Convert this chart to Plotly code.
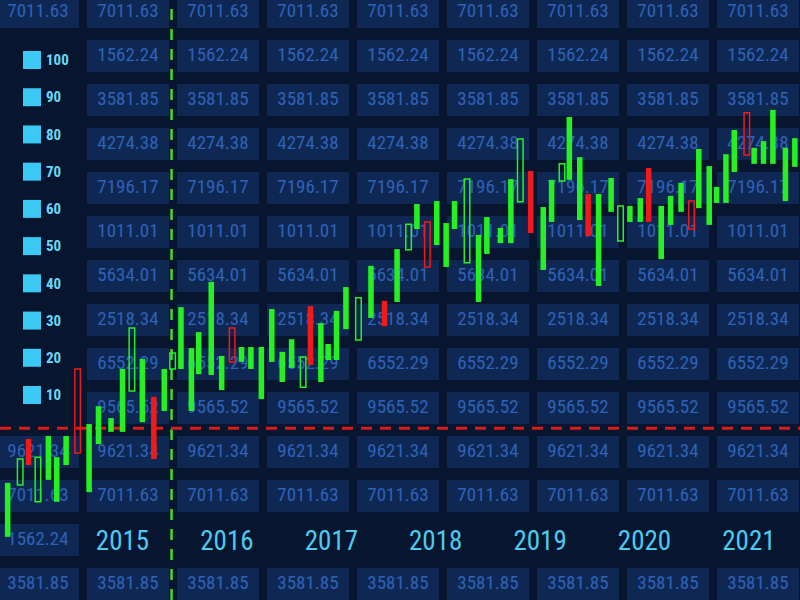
import plotly.graph_objects as go

# ---------------- data ----------------
# candle dates (fractional years)
dates = [2013.90, 2014.02, 2014.10, 2014.19, 2014.29, 2014.37, 2014.46, 2014.57, 2014.68, 2014.77,
         2014.89, 2015.00, 2015.09, 2015.19, 2015.30, 2015.40, 2015.48, 2015.56, 2015.66, 2015.73,
         2015.85, 2015.95, 2016.05, 2016.14, 2016.23, 2016.33, 2016.43, 2016.53, 2016.62, 2016.73,
         2016.80, 2016.90, 2016.97, 2017.05, 2017.14, 2017.26, 2017.38, 2017.51, 2017.63, 2017.74,
         2017.82, 2017.92, 2018.01, 2018.10, 2018.18, 2018.30, 2018.41, 2018.49, 2018.62, 2018.72,
         2018.81, 2018.91, 2019.03, 2019.11, 2019.21, 2019.28, 2019.38, 2019.46, 2019.56, 2019.68,
         2019.77, 2019.86, 2019.96, 2020.04, 2020.16, 2020.25, 2020.35, 2020.45, 2020.52, 2020.62,
         2020.69, 2020.78, 2020.86, 2020.98, 2021.05, 2021.14, 2021.23, 2021.35, 2021.44]
# top and bottom of each candle body
body_high = [-13.6, -7.2, -1.8, -6.7, -1.0, -6.7, -1.0, 17.0, 2.2, 7.0,
             3.8, 17.0, 28.0, 19.7, 9.5, 17.0, 21.3, 33.6, 22.6, 26.9,
             40.4, 20.5, 28.0, 22.9, 22.9, 22.9, 33.1, 21.6, 25.0, 20.2,
             33.9, 29.3, 23.7, 32.6, 39.0, 36.1, 44.7, 35.3, 49.2, 55.9,
             61.3, 56.5, 62.1, 56.2, 62.1, 68.0, 53.0, 57.8, 54.9, 68.0,
             78.8, 70.2, 60.5, 67.8, 72.1, 84.7, 73.9, 64.0, 64.0, 68.3,
             60.8, 60.8, 62.9, 71.0, 60.8, 63.5, 67.0, 62.1, 76.1, 71.5,
             65.9, 74.7, 81.2, 85.8, 76.4, 78.2, 86.6, 76.4, 79.0]
body_low = [-28.1, -14.2, -8.8, -18.7, -12.8, -18.7, -8.8, -5.6, -16.1, -3.2,
            0.1, 0.1, 11.1, 2.7, -7.2, 5.7, 17.0, 17.0, 5.7, 15.6,
            15.4, 11.3, 18.9, 18.9, 17.0, 8.9, 18.9, 13.5, 17.3, 12.1,
            18.1, 13.5, 19.4, 19.4, 27.7, 24.8, 30.7, 28.5, 35.0, 49.0,
            54.6, 44.4, 50.3, 44.4, 54.6, 45.5, 35.0, 47.9, 50.8, 50.8,
            61.9, 53.5, 43.6, 56.5, 67.5, 67.8, 57.0, 52.7, 39.3, 59.2,
            51.4, 56.5, 56.5, 56.5, 46.5, 55.7, 59.2, 54.6, 60.2, 55.7,
            61.6, 61.6, 69.9, 74.5, 72.1, 72.1, 72.1, 62.1, 71.3]
# G = green filled, GH = green hollow, R = red filled, RH = red hollow
kinds = ["G", "GH", "R", "GH", "G", "G", "G", "RH", "G", "G",
         "G", "G", "GH", "G", "R", "G", "GH", "G", "G", "G",
         "G", "G", "RH", "G", "G", "G", "G", "G", "G", "GH",
         "R", "G", "G", "G", "G", "GH", "G", "R", "G", "GH",
         "G", "RH", "G", "G", "G", "GH", "G", "G", "G", "G",
         "GH", "R", "G", "G", "GH", "G", "G", "R", "G", "G",
         "GH", "G", "G", "R", "G", "G", "G", "RH", "G", "G",
         "G", "G", "G", "RH", "G", "G", "G", "G", "G"]

year_ticks = [2015, 2016, 2017, 2018, 2019, 2020, 2021]
year_labels = ["2015", "2016", "2017", "2018", "2019", "2020", "2021"]
level_ticks = [10, 20, 30, 40, 50, 60, 70, 80, 90, 100]
level_labels = ["10", "20", "30", "40", "50", "60", "70", "80", "90", "100"]

ref_level = 1.1      # red dashed line
ref_date = 2015.47   # green dashed line

# background board numbers, one per row
board_rows = ["7011.63", "1562.24", "3581.85", "4274.38", "7196.17", "1011.01", "5634.01",
              "2518.34", "6552.29", "9565.52", "9621.34", "7011.63", "1562.24", "3581.85"]

# ---------------- styling ----------------
BG = "#07152f"
BOX = "#0f2853"
BOXTXT = "#2d62b8"
GREEN = "#27f022"
RED = "#f01a1a"
CYAN = "#4ccaf0"
NARROW = "Liberation Sans Narrow, Roboto Condensed, Roboto, Arial"

fig = go.Figure()

# background board (pixel-like canvas on base axes)
col_centers = [38 + 90 * i for i in range(9)]
row_centers = [12 + 44 * j for j in range(14)]
shapes = []
tx, ty, tt = [], [], []
for ci, cx in enumerate(col_centers):
    for ri, cy in enumerate(row_centers):
        if ci == 0 and ri not in (0, 10, 11, 12, 13):
            continue
        if ci > 0 and ri == 12:
            continue
        shapes.append(dict(type="rect", xref="x", yref="y", x0=cx - 41, x1=cx + 41,
                           y0=cy - 16, y1=cy + 16, fillcolor=BOX,
                           line=dict(width=0), layer="below"))
        tx.append(cx)
        ty.append(cy)
        tt.append(board_rows[ri])

fig.add_trace(go.Scatter(x=tx, y=ty, text=tt, mode="text", xaxis="x", yaxis="y",
                         textfont=dict(family=NARROW, size=19, color=BOXTXT),
                         hoverinfo="skip", showlegend=False))

# candles
styles = {
    "G": dict(fill=GREEN, line=GREEN, lw=0),
    "GH": dict(fill="rgba(0,0,0,0)", line=GREEN, lw=1.5),
    "R": dict(fill=RED, line=RED, lw=0),
    "RH": dict(fill="rgba(0,0,0,0)", line=RED, lw=1.5),
}
for k, st in styles.items():
    xs = [d for d, kk in zip(dates, kinds) if kk == k]
    lo = [l for l, kk in zip(body_low, kinds) if kk == k]
    hi = [h for h, kk in zip(body_high, kinds) if kk == k]
    fig.add_trace(go.Bar(x=xs, y=[h - l for h, l in zip(hi, lo)], base=lo, width=0.053,
                         marker=dict(color=st["fill"], line=dict(color=st["line"], width=st["lw"])),
                         xaxis="x2", yaxis="y2", showlegend=False, hoverinfo="skip"))

# level markers beside the axis labels
fig.add_trace(go.Scatter(x=[2014.133] * len(level_ticks), y=level_ticks, mode="markers",
                         marker=dict(symbol="square", size=18, color="#3cc8f4"),
                         xaxis="x2", yaxis="y2", showlegend=False, hoverinfo="skip"))

shapes.append(dict(type="line", xref="x2", yref="paper", x0=ref_date, x1=ref_date, y0=0, y1=1,
                   line=dict(color="#45d82a", width=2.5, dash="11px,9px"), layer="below"))
shapes.append(dict(type="line", xref="paper", yref="y2", x0=0, x1=1, y0=ref_level, y1=ref_level,
                   line=dict(color="#d81b1b", width=3, dash="11px,8px"), layer="below"))

fig.update_layout(
    width=800, height=600,
    margin=dict(l=0, r=0, t=0, b=0, pad=0),
    paper_bgcolor=BG, plot_bgcolor="rgba(0,0,0,0)",
    barmode="overlay",
    shapes=shapes,
    xaxis=dict(range=[0, 800], visible=False, fixedrange=True),
    yaxis=dict(range=[600, 0], visible=False, fixedrange=True),
    xaxis2=dict(overlaying="x", range=[2013.8266, 2021.4894], anchor="free", position=0.13,
                tickvals=year_ticks, ticktext=year_labels, showgrid=False, zeroline=False,
                showline=False, ticks="", tickfont=dict(family=NARROW, size=27, color=CYAN)),
    yaxis2=dict(overlaying="y", range=[-45.07, 116.12], anchor="free", position=0,
                tickvals=level_ticks, ticktext=level_labels, ticklabelposition="inside",
                ticklabelstandoff=42, showgrid=False, zeroline=False, showline=False, ticks="",
                tickfont=dict(family=NARROW, size=15, color="#6ad8f8", weight="bold")),
)

fig.write_html("out.html",
               config={"displayModeBar": False},
               post_script="document.body.style.margin='0';"
                           "document.body.style.background='#07152f';")
